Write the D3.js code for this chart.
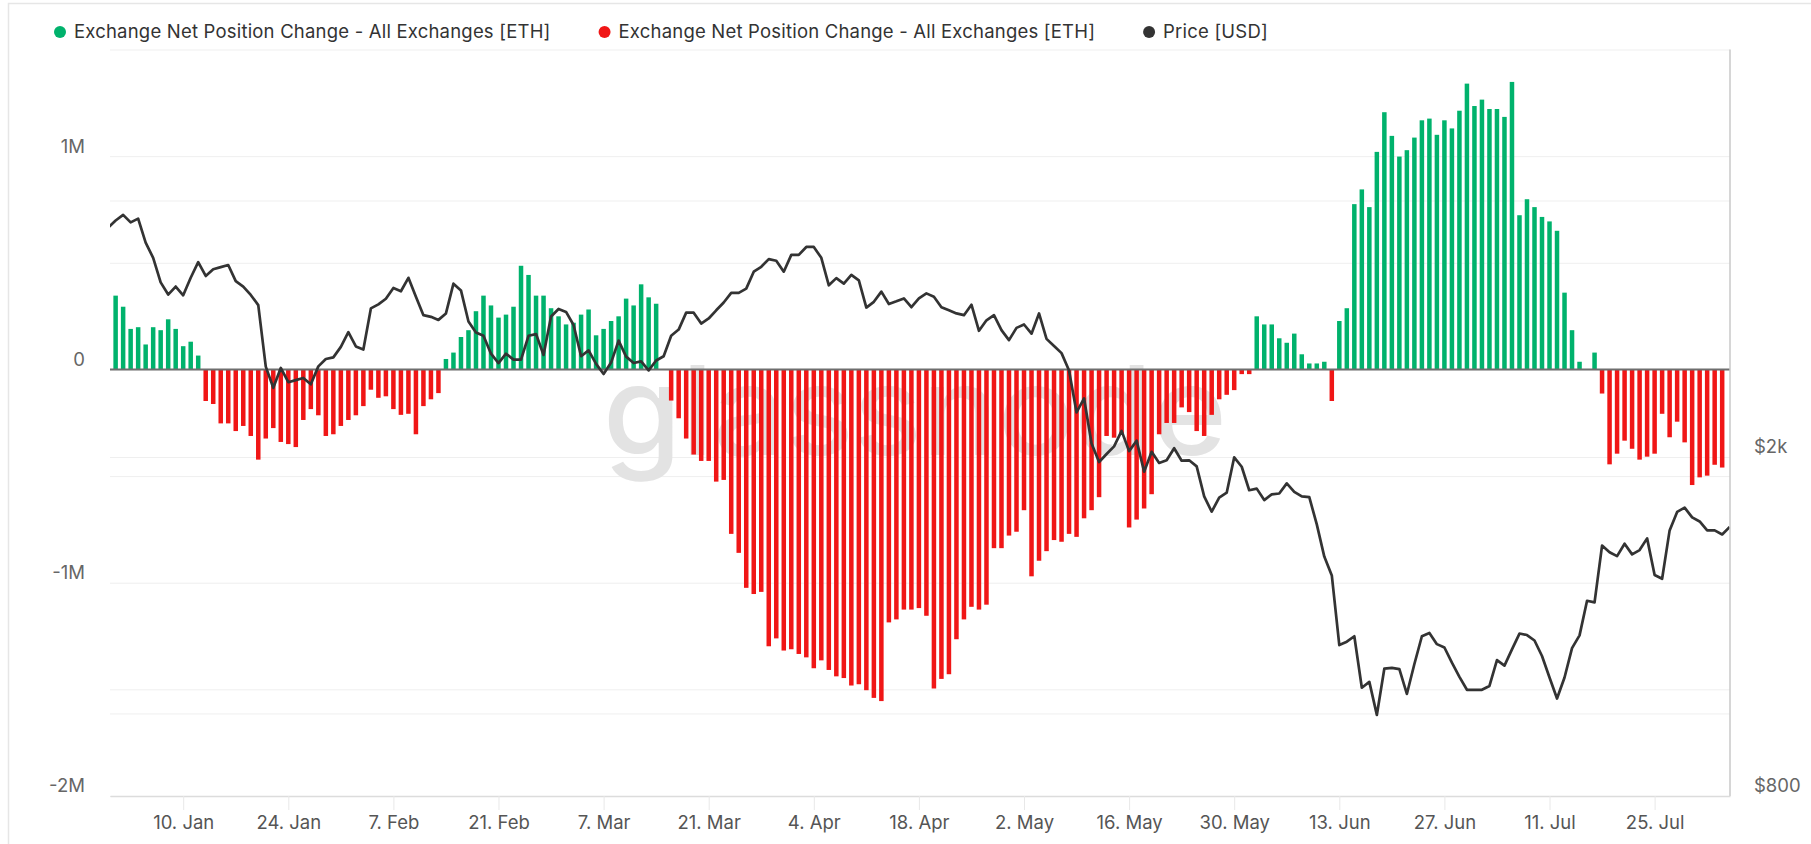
<!DOCTYPE html>
<html><head><meta charset="utf-8">
<script src="https://cdn.jsdelivr.net/npm/d3@7"></script>
<style>
body{margin:0;background:#fff;}
svg{display:block;font-family:Inter,"Noto Sans",sans-serif;}
</style>
</head><body><svg id="c" width="1811" height="844"></svg>
<script>
// ---------- DATA ----------
const seriesNames = [
  "Exchange Net Position Change - All Exchanges [ETH]",
  "Exchange Net Position Change - All Exchanges [ETH]",
  "Price [USD]"
];
const seriesColors = ["#00b26c", "#f01616", "#333333"];

// daily net position change (ETH), first day 2022-01-01
const netStart = "2022-01-01";
const netChange = [
  346000,294000,190000,198000,117000,198000,184000,235000,190000,109000,130000,65000,
  -148000,-162000,-253000,-253000,-289000,-265000,-312000,-423000,-324000,-275000,-340000,-350000,
  -364000,-237000,-186000,-215000,-312000,-304000,-265000,-237000,-215000,-172000,-95000,-133000,
  -126000,-186000,-213000,-208000,-304000,-172000,-140000,-111000,
  49000,79000,152000,184000,273000,346000,300000,243000,257000,294000,486000,443000,346000,346000,
  287000,249000,211000,219000,257000,281000,160000,190000,227000,249000,332000,300000,399000,338000,308000,
  0,
  -146000,-229000,-324000,-399000,-429000,-429000,-526000,-518000,-771000,-860000,-1024000,-1053000,
  -1043000,-1298000,-1261000,-1318000,-1312000,-1334000,-1350000,-1401000,-1364000,-1409000,-1439000,
  -1447000,-1482000,-1476000,-1504000,-1540000,-1555000,-1186000,-1172000,-1126000,-1126000,-1119000,-1155000,
  -1496000,-1451000,-1429000,-1265000,-1172000,-1113000,-1126000,-1103000,-838000,-838000,-779000,-761000,
  -660000,-970000,-897000,-852000,-800000,-808000,-771000,-785000,-698000,-660000,-599000,-312000,
  -320000,-300000,-741000,-704000,-652000,-585000,-304000,-251000,-251000,-178000,-200000,-289000,
  -312000,-213000,-140000,-119000,-97000,-22000,-22000,
  249000,211000,211000,146000,125000,168000,71000,28000,28000,36000,
  -148000,
  227000,287000,775000,844000,761000,1020000,1206000,1095000,998000,1028000,1087000,1168000,1176000,
  1100000,1168000,1130000,1213000,1340000,1235000,1265000,1221000,1221000,1184000,1348000,723000,
  798000,761000,715000,694000,650000,360000,184000,36000,0,79000,
  -113000,-445000,-395000,-334000,-372000,-423000,-409000,-395000,-208000,-318000,-245000,-342000,
  -542000,-506000,-498000,-447000,-460000
];

// daily ETH price (USD), first day 2021-12-31
const priceStart = "2021-12-31";
const price = [
  3718,3790,3848,3770,3809,3569,3426,3206,3102,3170,3096,3246,3386,3262,3322,3341,3360,3217,3170,3099,
  3015,2553,2411,2544,2448,2462,2476,2434,2555,2606,2618,2693,2802,2696,2674,2988,3021,3067,3158,3130,
  3246,3084,2934,2921,2897,2948,3195,3137,2884,2800,2775,2644,2578,2644,2602,2602,2775,2788,2635,2923,
  2984,2960,2857,2626,2668,2572,2503,2581,2739,2623,2578,2590,2527,2596,2626,2775,2822,2954,2954,2868,
  2908,2973,3036,3116,3116,3152,3300,3344,3414,3399,3300,3453,3453,3528,3528,3426,3181,3243,3195,3272,
  3224,2995,3042,3127,3024,3046,3070,2998,3070,3112,3084,2998,2973,2948,2934,3018,2813,2894,2934,2818,
  2743,2835,2861,2791,2948,2752,2699,2648,2527,2256,2343,2074,1973,2016,2058,2146,2032,2090,1922,2028,
  1968,1982,2048,1980,1982,1950,1798,1725,1792,1816,1998,1948,1828,1836,1780,1808,1812,1862,1820,1798,
  1794,1667,1528,1452,1203,1214,1232,1072,1089,996,1129,1131,1127,1054,1143,1232,1243,1206,1195,1147,
  1104,1066,1066,1066,1077,1155,1138,1189,1241,1236,1218,1168,1102,1041,1102,1193,1235,1356,1350,1574,
  1546,1530,1582,1537,1555,1605,1454,1439,1640,1724,1744,1699,1680,1640,1640,1622,1655
];

const leftTicks = [1000000, 0, -1000000, -2000000];
const leftTickLabels = ["1M", "0", "-1M", "-2M"];
const leftGridStep = 500000;
const rightTicks = [2000, 800];
const rightTickLabels = ["$2k", "$800"];
const rightGrid = [1000, 2000, 4000];
const xTickFirst = "2022-01-10";
const xTickLast = "2022-07-31";
const xTickStepDays = 14;
const watermark = "glassnode";

// ---------- LAYOUT ----------
const W = 1811, H = 844;
const plot = {left: 110, right: 1730, top: 49.5, bottom: 796};
const FS = 18.5;
const svg = d3.select("#c");

const parse = d3.utcParse("%Y-%m-%d");
const netDates = netChange.map((_, i) => d3.utcDay.offset(parse(netStart), i));
const priceDates = price.map((_, i) => d3.utcDay.offset(parse(priceStart), i));

const x = d3.scaleUtc()
  .domain([d3.utcHour.offset(parse(netStart), -17.5), d3.utcHour.offset(d3.utcDay.offset(parse(netStart), 215), 1.7)])
  .range([plot.left, plot.right]);
const yL = d3.scaleLinear().domain([-2000000, 1500000]).range([plot.bottom, plot.top]);
const yR = d3.scaleLog().domain([800, 6016]).range([plot.bottom, plot.top]);

// outer frame
svg.append("path").attr("d", `M8.5,${H}V3.5H${W}`).attr("fill", "none").attr("stroke", "#e6e6e6").attr("stroke-width", 1.5);

// clip
svg.append("clipPath").attr("id", "clip").append("rect")
  .attr("x", plot.left).attr("y", plot.top).attr("width", plot.right - plot.left).attr("height", plot.bottom - plot.top);

// gridlines (left axis every 0.5M)
const gl = svg.append("g").attr("transform", `translate(${plot.left},0)`)
  .call(d3.axisLeft(yL).tickValues(d3.range(-2000000, 1500001, leftGridStep)).tickSize(-(plot.right - plot.left)).tickFormat(""));
gl.select(".domain").remove();
gl.selectAll("line").attr("stroke", "#efefef").attr("stroke-width", 1);

const gr = svg.append("g").attr("transform", `translate(${plot.right},0)`)
  .call(d3.axisRight(yR).tickValues(rightGrid).tickSize(-(plot.right - plot.left)).tickFormat(""));
gr.select(".domain").remove();
gr.selectAll("line").attr("stroke", "#efefef").attr("stroke-width", 1);

// watermark
svg.append("text").attr("x", 603).attr("y", 455)
  .attr("font-size", 124).attr("font-weight", 500).attr("fill", "#e3e3e3")
  .attr("textLength", 624).attr("lengthAdjust", "spacingAndGlyphs").text(watermark);

// bars
const bw = 4.5;
const bars = svg.append("g").attr("clip-path", "url(#clip)");
bars.selectAll("rect").data(netChange.map((v, i) => ({v, d: netDates[i]})).filter(o => o.v !== 0))
  .join("rect")
  .attr("x", o => x(o.d) - bw / 2)
  .attr("width", bw)
  .attr("y", o => o.v > 0 ? yL(o.v) : yL(0))
  .attr("height", o => Math.abs(yL(o.v) - yL(0)))
  .attr("fill", o => o.v > 0 ? seriesColors[0] : seriesColors[1]);

// zero line
svg.append("line").attr("x1", plot.left).attr("x2", plot.right).attr("y1", yL(0)).attr("y2", yL(0))
  .attr("stroke", "#6e6e6e").attr("stroke-width", 2);

// price line
svg.append("path").attr("clip-path", "url(#clip)")
  .datum(price.map((p, i) => ({p, d: priceDates[i]})))
  .attr("d", d3.line().x(o => x(o.d)).y(o => yR(o.p)))
  .attr("fill", "none").attr("stroke", seriesColors[2]).attr("stroke-width", 2.7).attr("stroke-linejoin", "round");

// right plot border
svg.append("line").attr("x1", plot.right).attr("x2", plot.right).attr("y1", plot.top).attr("y2", plot.bottom)
  .attr("stroke", "#c8c8c8").attr("stroke-width", 1.5);

// x axis
const xTicks = d3.utcDay.range(parse(xTickFirst), parse(xTickLast), 1).filter((d, i) => i % xTickStepDays === 0);
const xa = svg.append("g").attr("transform", `translate(0,${plot.bottom})`)
  .call(d3.axisBottom(x).tickValues(xTicks).tickFormat(d3.utcFormat("%-d. %b")).tickSize(14).tickPadding(6).tickSizeOuter(0));
xa.select(".domain").attr("stroke", "#dcdcdc").attr("stroke-width", 1.5);
xa.selectAll(".tick line").attr("stroke", "#e8e8e8");
xa.selectAll("text").attr("font-size", FS).attr("fill", "#555").attr("font-family", "Inter");

// left labels
const la = svg.append("g").attr("transform", `translate(${plot.left},0)`)
  .call(d3.axisLeft(yL).tickValues(leftTicks).tickFormat((d, i) => leftTickLabels[i]).tickSize(0).tickPadding(25));
la.select(".domain").remove();
la.selectAll("text").attr("font-size", FS).attr("fill", "#666").attr("font-family", "Inter").attr("dy", "-0.22em");

// right labels
const ra = svg.append("g").attr("transform", `translate(${plot.right},0)`)
  .call(d3.axisRight(yR).tickValues(rightTicks).tickFormat((d, i) => rightTickLabels[i]).tickSize(0).tickPadding(24));
ra.select(".domain").remove();
ra.selectAll("text").attr("font-size", FS).attr("fill", "#666").attr("font-family", "Inter").attr("dy", "-0.22em");

// legend
const lg = svg.append("g");
let lx = 60;
seriesNames.forEach((name, i) => {
  lg.append("circle").attr("cx", lx).attr("cy", 32).attr("r", 6).attr("fill", seriesColors[i]);
  const t = lg.append("text").attr("x", lx + 14).attr("y", 32).attr("dy", "0.35em")
    .attr("font-size", FS).attr("letter-spacing", 0.2).attr("fill", "#333").text(name);
  lx = lx + 14 + t.node().getComputedTextLength() + 54;
});
</script></body></html>
